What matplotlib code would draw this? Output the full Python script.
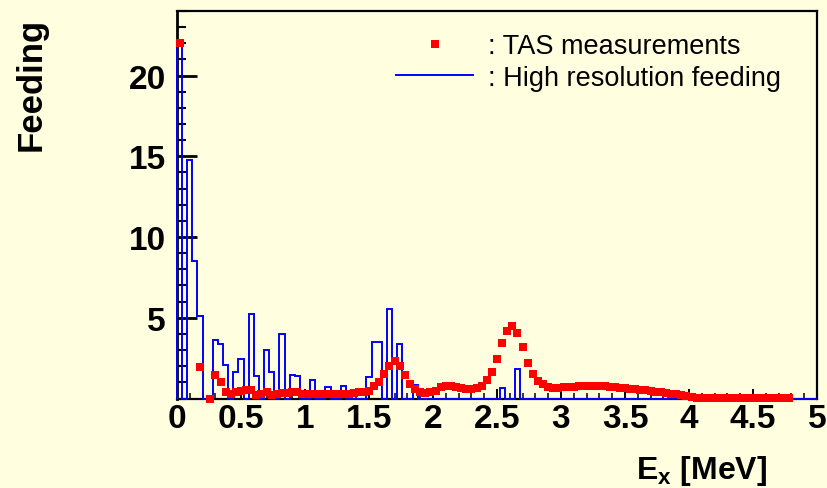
import numpy as np
import matplotlib
matplotlib.use("Agg")
import matplotlib.pyplot as plt
from matplotlib.ticker import MultipleLocator, FixedLocator

plt.rcParams['mathtext.fontset'] = 'custom'
plt.rcParams['mathtext.rm'] = 'Liberation Sans'
plt.rcParams['mathtext.bf'] = 'Liberation Sans:bold'
plt.rcParams['mathtext.it'] = 'Liberation Sans:italic'

# ---------------- data ----------------
bin_width = 0.04          # MeV
n_bins = 125              # 0 .. 5 MeV

# high resolution feeding: non-zero bins (index) and their values
hr_bins = [0, 2, 3, 4, 7, 8, 9, 11, 12, 14, 15, 17, 18, 20, 22, 23,
           26, 29, 32, 37, 38, 39, 41, 43, 46, 63, 66]
hr_feeding = [22.0, 14.8, 8.5, 5.1, 3.6, 3.35, 2.05, 1.65, 2.45, 5.25, 1.42,
              3.0, 1.65, 4.0, 1.48, 1.42, 1.15, 0.7, 0.8, 1.33, 3.5, 3.5,
              5.55, 3.35, 0.86, 0.63, 1.8]

# TAS measurements, one value per 0.04 MeV step (centres 0.02, 0.06, ...)
nan = float('nan')
tas_feeding = [
    22.0, nan, nan, nan, 1.98, nan, 0.0, 1.46, 1.0, 0.38,          # 0-9
    0.27, 0.42, 0.45, 0.5, 0.52, 0.21, 0.3, 0.42, 0.21, 0.3,       # 10-19
    0.32, 0.32, 0.42, 0.42, 0.3, 0.25, 0.25, 0.25, 0.25, 0.25,     # 20-29
    0.25, 0.26, 0.28, 0.3, 0.32, 0.39, 0.42, 0.48, 0.76, 1.04,     # 30-39
    1.54, 2.04, 2.35, 2.04, 1.46, 0.92, 0.59, 0.42, 0.34, 0.42,    # 40-49
    0.48, 0.7, 0.8, 0.8, 0.73, 0.65, 0.59, 0.59, 0.65, 0.8,        # 50-59
    1.17, 1.66, 2.45, 3.45, 4.19, 4.52, 4.07, 3.22, 2.2, 1.52,     # 60-69
    1.07, 0.9, 0.73, 0.65, 0.67, 0.7, 0.72, 0.73, 0.78, 0.79,      # 70-79
    0.8, 0.8, 0.79, 0.77, 0.74, 0.71, 0.67, 0.63, 0.6, 0.57,       # 80-89
    0.54, 0.5, 0.46, 0.42, 0.38, 0.34, 0.3, 0.25, 0.2, 0.14,       # 90-99
    0.09, 0.05, 0.02, 0.02, 0.02, 0.02, 0.02, 0.02, 0.02, 0.02,    # 100-109
    0.02, 0.02, 0.02, 0.02, 0.02, 0.02, 0.02, 0.02, 0.02, 0.02,    # 110-119
]

x_ticks = [0, 0.5, 1, 1.5, 2, 2.5, 3, 3.5, 4, 4.5, 5]
x_tick_labels = ['0', '0.5', '1', '1.5', '2', '2.5', '3', '3.5', '4', '4.5', '5']
y_ticks = [5, 10, 15, 20]
y_tick_labels = ['5', '10', '15', '20']

# ---------------- build ----------------
edges = np.arange(n_bins + 1) * bin_width
hr_hist = np.zeros(n_bins)
hr_hist[hr_bins] = hr_feeding
tas_y = np.array(tas_feeding, dtype=float)
tas_x = (np.arange(len(tas_y)) + 0.5) * bin_width

W, H = 828, 489
fig = plt.figure(figsize=(W / 100, H / 100), dpi=100)
bg = '#ffffe0'
fig.patch.set_facecolor(bg)
ax = fig.add_axes([177 / W, 1 - 399.5 / H, (817 - 177) / W, (399.5 - 12) / H])
ax.set_facecolor(bg)

line_hr = ax.stairs(hr_hist, edges, color='#0000ff', linewidth=1.4,
                    baseline=0, fill=False, zorder=3, clip_on=False,
                    label=': High resolution feeding')
pts, = ax.plot(tas_x, tas_y, linestyle='none', marker='s', markersize=5.2,
               markerfacecolor='#ff0000', markeredgecolor='#ff0000',
               markeredgewidth=0, zorder=4, clip_on=False,
               label=': TAS measurements')

ax.set_xlim(0, 5)
ax.set_ylim(0, 24)

for side in ['left', 'right', 'top', 'bottom']:
    ax.spines[side].set_color('black')
ax.spines['left'].set_linewidth(2.0)
ax.spines['top'].set_linewidth(1.6)
ax.spines['right'].set_linewidth(1.6)
ax.spines['bottom'].set_linewidth(1.6)

ax.xaxis.set_major_locator(FixedLocator(x_ticks))
ax.set_xticklabels(x_tick_labels)
ax.xaxis.set_minor_locator(MultipleLocator(0.1))
ax.yaxis.set_major_locator(FixedLocator(y_ticks))
ax.set_yticklabels(y_tick_labels)
ax.yaxis.set_minor_locator(MultipleLocator(1))

ax.tick_params(axis='x', which='major', direction='in', length=7.5, width=1.4,
               pad=3, top=False)
ax.tick_params(axis='x', which='minor', direction='in', length=4.3, width=1.1,
               top=False)
ax.tick_params(axis='y', which='major', direction='in', length=14.5, width=2.0,
               pad=8, right=False)
ax.tick_params(axis='y', which='minor', direction='in', length=6.5, width=1.5,
               right=False)
for lab in ax.get_xticklabels() + ax.get_yticklabels():
    lab.set_fontfamily('Liberation Sans')
    lab.set_fontweight('bold')
    lab.set_fontsize(24)

fig.text(31 / W, 1 - 84 / H, 'Feeding', rotation=90, ha='center', va='center',
         fontfamily='Liberation Sans', fontweight='bold', fontsize=25)
fig.text(767 / W, 1 - 479 / H, r'E$_{\mathbf{x}}$ [MeV]', ha='right',
         va='baseline', fontfamily='Liberation Sans', fontweight='bold',
         fontsize=23)

leg = ax.legend(handles=[pts, line_hr], loc='upper left',
                bbox_to_anchor=(396 / W, 1 - 34 / H),
                bbox_transform=fig.transFigure, frameon=False,
                prop=dict(family='Liberation Sans', size=19.5),
                handlelength=2.85, handletextpad=0.55, labelspacing=0.22,
                borderpad=0, borderaxespad=0, numpoints=1)

fig.savefig('out.png', dpi=100, facecolor=bg)
